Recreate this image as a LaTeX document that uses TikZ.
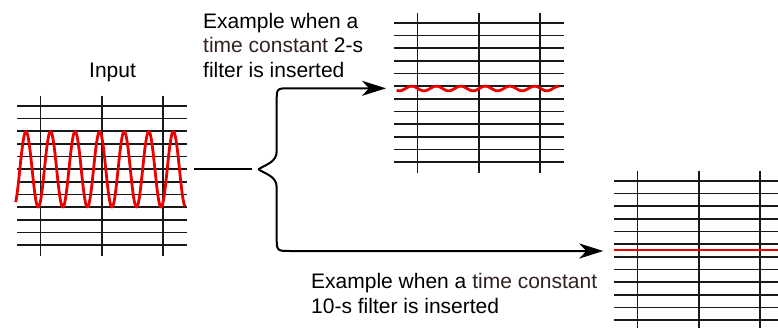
\documentclass[tikz,border=0pt]{standalone}
\usepackage{fontspec}
\setmainfont{Liberation Sans}
\usetikzlibrary{arrows.meta}
\definecolor{tc}{RGB}{48,34,32}
\definecolor{wave}{RGB}{235,0,0}
\tikzset{
  gridline/.style={line width=1.6pt, black!90},
  wavy/.style={line width=2.8pt, wave, line join=round},
  conn/.style={line width=2pt, black},
  arr/.style={conn, -{Stealth[length=24pt,width=15pt,inset=7pt]}},
  lbl/.style={inner sep=0pt, anchor=base west, align=left, font=\fontsize{21}{24.5}\selectfont},
  chart/.pic={
    \foreach \i in {0,...,11} \draw[gridline] (0,\i*12.64) -- (170,\i*12.64);
    \foreach \v in {23.5,84.7,146} \draw[gridline] (\v,-10.5) -- (\v,149.5);
  }
}
\begin{document}
\begin{tikzpicture}[x=1pt,y=-1pt]
\useasboundingbox (0,0) rectangle (778,327);
\clip (0,0) rectangle (778,327);
% charts
\pic at (17,106) {chart};
\pic at (394,23) {chart};
\pic at (614,181) {chart};
% waves
\draw[wavy] plot[domain=15.7:185, samples=400, smooth] (\x, {169.3+37.7*cos((\x-13.7)/24.56*360)});
\draw[wavy] plot[domain=396.7:559, samples=300, smooth] (\x, {88.5-2.3*cos((\x-411.7)/24.56*360)});
\draw[wavy] (614,250) -- (778,250);
% labels (base = baseline of last line)
\node[lbl] (input) at (89,77) {Input};
\node[lbl] (ex2) at (203,77) {Example when a\\\textcolor{tc}{time constant} 2-s\\filter is inserted};
\node[lbl] (ex10) at (311,313) {Example when a \textcolor{tc}{time constant}\\10-s filter is inserted};
% connectors
\coordinate (a) at (194,169);
\coordinate (b) at (251.7,169);
\coordinate (tip) at (258.3,169.3);
\coordinate (t1) at (386,88.3);
\coordinate (t2) at (603.3,251);
\draw[conn] (a) -- (b);
\draw[arr, line join=round] (tip) .. controls (267,164) and (276.7,162) .. (276.7,151)
  -- (276.7,101.3) .. controls (276.7,88.3) .. (289.7,88.3) -- (t1);
\draw[arr, line join=round] (tip) .. controls (267,174.6) and (276.7,176.6) .. (276.7,187.6)
  -- (276.7,237) .. controls (276.7,251) .. (290.7,251) -- (t2);
\end{tikzpicture}
\end{document}
